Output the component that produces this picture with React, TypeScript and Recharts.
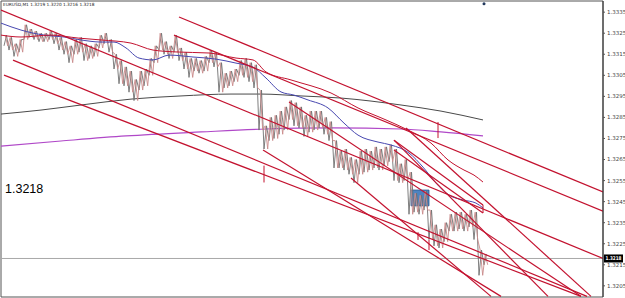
import React from 'react';
import { ComposedChart, Line, XAxis, YAxis, ReferenceLine, ReferenceArea, ReferenceDot } from 'recharts';

const yTicks = [1.3205, 1.3215, 1.3225, 1.3235, 1.3245, 1.3255, 1.3265, 1.3275, 1.3285, 1.3295, 1.3305, 1.3315, 1.3325, 1.3335];
const yDomain = [1.31997, 1.33403];

// M1 bars, one pair every 5 minutes of chart width
const barHigh = [
  1.3324, 1.3323, 1.3320, 1.3322, 1.3329, 1.3327, 1.3326, 1.3325, 1.3325, 1.3326,
  1.3325, 1.3323, 1.3321, 1.3319, 1.3322, 1.3323, 1.3320, 1.3319, 1.3320, 1.3324,
  1.3325, 1.3322, 1.3315, 1.3312, 1.3309, 1.3307, 1.3303, 1.3307, 1.3308, 1.3313,
  1.3319, 1.3325, 1.3321, 1.3319, 1.3324, 1.3318, 1.3316, 1.3313, 1.3313, 1.3312,
  1.3314, 1.3317, 1.3316, 1.3311, 1.3306, 1.3307, 1.3308, 1.3312, 1.3313, 1.3311,
  1.3310, 1.3298, 1.3281, 1.3285, 1.3286, 1.3288, 1.3290, 1.3293, 1.3292, 1.3290,
  1.3286, 1.3288, 1.3288, 1.3288, 1.3285, 1.3283, 1.3274, 1.3269, 1.3270, 1.3266,
  1.3265, 1.3269, 1.3270, 1.3269, 1.3271, 1.3270, 1.3271, 1.3272, 1.3270, 1.3263,
  1.3265, 1.3259, 1.3249, 1.3248, 1.3250, 1.3241, 1.3234, 1.3232, 1.3235, 1.3239,
  1.3240, 1.3240, 1.3239, 1.3241, 1.3240, 1.3222, 1.3220,
];
const barLow = [
  1.3319, 1.3317, 1.3314, 1.3316, 1.3322, 1.3323, 1.3322, 1.3321, 1.3321, 1.3322,
  1.3320, 1.3317, 1.3315, 1.3311, 1.3315, 1.3316, 1.3312, 1.3313, 1.3314, 1.3318,
  1.3320, 1.3316, 1.3308, 1.3301, 1.3300, 1.3297, 1.3293, 1.3298, 1.3300, 1.3305,
  1.3311, 1.3317, 1.3315, 1.3313, 1.3316, 1.3312, 1.3308, 1.3304, 1.3307, 1.3306,
  1.3307, 1.3311, 1.3309, 1.3297, 1.3299, 1.3300, 1.3302, 1.3305, 1.3304, 1.3302,
  1.3299, 1.3279, 1.3270, 1.3274, 1.3275, 1.3277, 1.3279, 1.3284, 1.3281, 1.3280,
  1.3276, 1.3278, 1.3279, 1.3280, 1.3277, 1.3274, 1.3261, 1.3261, 1.3260, 1.3258,
  1.3254, 1.3258, 1.3259, 1.3260, 1.3261, 1.3260, 1.3262, 1.3264, 1.3255, 1.3254,
  1.3255, 1.3239, 1.3240, 1.3239, 1.3241, 1.3227, 1.3224, 1.3223, 1.3226, 1.3231,
  1.3231, 1.3232, 1.3231, 1.3233, 1.3227, 1.3210, 1.3215,
];

const maRedX = [0, 20, 50, 77, 100, 130, 152, 175, 208, 235, 252, 265, 290, 330, 357, 385, 407, 430, 447, 463, 473, 482];
const maRed = [1.33241, 1.33232, 1.33241, 1.33227, 1.33218, 1.33203, 1.3317, 1.33161, 1.33156, 1.33132, 1.33123, 1.33066, 1.33028, 1.32966, 1.32895, 1.32838, 1.3279, 1.32728, 1.32648, 1.326, 1.32576, 1.32543];

const maBlueX = [0, 20, 43, 63, 80, 100, 113, 125, 138, 152, 168, 192, 215, 235, 252, 265, 280, 293, 307, 327, 343, 357, 377, 390, 408, 422, 435, 448, 462, 475, 482];
const maBlue = [1.33298, 1.33265, 1.33241, 1.33232, 1.33218, 1.33208, 1.33208, 1.3318, 1.33132, 1.33123, 1.33146, 1.33137, 1.33127, 1.33108, 1.33089, 1.33037, 1.32971, 1.32956, 1.32933, 1.32895, 1.32823, 1.32766, 1.32733, 1.32719, 1.32681, 1.32614, 1.32538, 1.32481, 1.32458, 1.32443, 1.3242];

const maGrayX = [0, 40, 80, 130, 180, 230, 260, 300, 340, 400, 440, 482];
const maGray = [1.32866, 1.32885, 1.32909, 1.32937, 1.32952, 1.32961, 1.32961, 1.32952, 1.32942, 1.32909, 1.3288, 1.32838];

const maPurpleX = [0, 60, 125, 200, 265, 330, 400, 440, 482];
const maPurple = [1.32714, 1.32738, 1.32762, 1.32781, 1.32795, 1.328, 1.32795, 1.32781, 1.32762];

// trend lines: [x1, price1, x2, price2]
const trendLines = [
  [0, 1.3336, 602, 1.3218],
  [178, 1.33327, 602, 1.32496],
  [173, 1.33241, 602, 1.32405],
  [12, 1.33122, 586, 1.3200],
  [3, 1.33051, 580, 1.3200],
  [288, 1.32923, 580, 1.3200],
  [393, 1.32742, 547, 1.3200],
  [405, 1.3280, 590, 1.3200],
  [350, 1.32562, 490, 1.3200],
  [262, 1.32695, 500, 1.3200],
  [393, 1.32742, 482, 1.32434],
  [393, 1.32695, 482, 1.32396],
];

// channel width markers: [x, top price, bottom price]
const markers = [
  [263, 1.32621, 1.32541],
  [437, 1.32828, 1.32752],
  [417, 1.32305, 1.32268],
  [428, 1.32268, 1.3222],
  [482, 1.32434, 1.32396],
];

const lastPrice = 1.3218;

const barsA: { x: number; p: number }[] = [];
const barsB: { x: number; p: number }[] = [];
barHigh.forEach((h, i) => {
  const t = 3 + i * 5;
  barsA.push({ x: t, p: barLow[i] }, { x: t + 2.5, p: h });
  barsB.push({ x: t + 1.2, p: h }, { x: t + 3.7, p: barLow[i] });
});
const toSeries = (xs: number[], ps: number[]) => xs.map((x, i) => ({ x, p: ps[i] }));

const RED = '#c3122f';

const PriceTag = (props: any) => {
  const vb = props.viewBox || {};
  const x = (vb.x || 0) + (vb.width || 0) + 1;
  const y = vb.y || 0;
  return (
    <g>
      <rect x={x} y={y - 4} width={19} height={8} fill="#000" />
      <text x={x + 1.5} y={y + 2} fill="#fff" fontSize={5} fontWeight="bold" textLength={16} lengthAdjust="spacingAndGlyphs" fontFamily="DejaVu Sans, sans-serif">
        {lastPrice.toFixed(4)}
      </text>
    </g>
  );
};

export default function App() {
  return (
    <div style={{ position: 'absolute', left: 0, top: 0, width: 625, height: 298, background: '#fff', overflow: 'hidden' }}>
      <ComposedChart width={625} height={298} margin={{ top: 1, right: 0, bottom: 1, left: 1 }}>
        <XAxis type="number" dataKey="x" domain={[0, 602]} hide allowDataOverflow />
        <YAxis
          orientation="right"
          type="number"
          domain={yDomain}
          ticks={yTicks}
          allowDataOverflow
          width={22}
          tickSize={2}
          tickLine={{ stroke: '#555' }}
          axisLine={{ stroke: '#333' }}
          tick={{ fontSize: 5.5, fill: '#444', fontFamily: 'Verdana, DejaVu Sans, sans-serif' }}
          tickFormatter={(v: number) => v.toFixed(4)}
        />
        <ReferenceArea x1={0} x2={602} y1={yDomain[0]} y2={yDomain[1]} fill="none" stroke="#555" strokeWidth={1} ifOverflow="visible" />
        <ReferenceLine y={lastPrice} stroke="#a8a8a8" strokeWidth={1} label={<PriceTag />} />
        <Line data={toSeries(maGrayX, maGray)} dataKey="p" type="monotone" stroke="#4a4a4a" strokeWidth={1} dot={false} isAnimationActive={false} />
        <Line data={toSeries(maPurpleX, maPurple)} dataKey="p" type="monotone" stroke="#b048c8" strokeWidth={1.2} dot={false} isAnimationActive={false} />
        <Line data={barsA} dataKey="p" type="linear" stroke="#707070" strokeWidth={0.9} dot={false} isAnimationActive={false} />
        <Line data={barsB} dataKey="p" type="linear" stroke="#c98a8a" strokeWidth={0.9} dot={false} isAnimationActive={false} />
        <Line data={toSeries(maBlueX, maBlue)} dataKey="p" type="monotone" stroke="#4848b0" strokeWidth={1} dot={false} isAnimationActive={false} />
        <Line data={toSeries(maRedX, maRed)} dataKey="p" type="monotone" stroke={RED} strokeWidth={1} dot={false} isAnimationActive={false} />
        {trendLines.map((l, i) => (
          <ReferenceLine key={`t${i}`} segment={[{ x: l[0], y: l[1] }, { x: l[2], y: l[3] }]} stroke={RED} strokeWidth={1.2} ifOverflow="hidden" />
        ))}
        {markers.map((m, i) => (
          <ReferenceLine key={`m${i}`} segment={[{ x: m[0], y: m[1] }, { x: m[0], y: m[2] }]} stroke={RED} strokeWidth={1} ifOverflow="hidden" />
        ))}
        <ReferenceArea x1={410} x2={428} y1={1.3243} y2={1.32505} fill="#2f6db5" fillOpacity={0.85} stroke="#24558e" strokeWidth={0.8} />
        <ReferenceDot x={483} y={1.3339} r={1.5} fill="#23395d" stroke="none" />
      </ComposedChart>
      <div style={{ position: 'absolute', left: 3, top: 2, fontSize: 4.3, color: '#222', fontFamily: 'Verdana, DejaVu Sans, sans-serif', whiteSpace: 'nowrap' }}>
        EURUSD,M1  1.3219 1.3220 1.3216 1.3218
      </div>
      <div style={{ position: 'absolute', left: 5, top: 182, fontSize: 12.5, color: '#000', fontFamily: 'Liberation Sans, Arial, sans-serif' }}>
        1.3218
      </div>
    </div>
  );
}
